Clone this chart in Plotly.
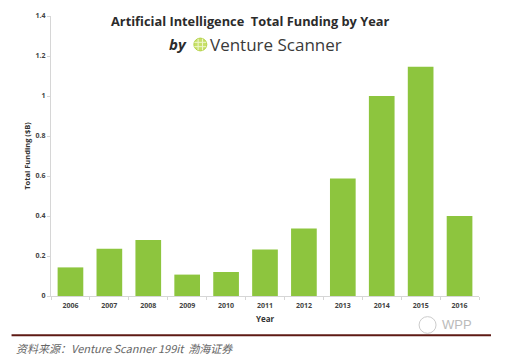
import plotly.graph_objects as go

years = ["2006", "2007", "2008", "2009", "2010", "2011", "2012", "2013", "2014", "2015", "2016"]
funding = [0.143, 0.236, 0.280, 0.107, 0.120, 0.233, 0.338, 0.587, 1.000, 1.146, 0.400]
ytick_vals = [0, 0.2, 0.4, 0.6, 0.8, 1.0, 1.2, 1.4]
ytick_text = ["0", "0.2", "0.4", "0.6", "0.8", "1", "1.2", "1.4"]

W, H = 517, 357
L, R, T, B = 50.5, 38, 11, 61
ph = H - T - B
pw = W - L - R

def py(y):
    return (H - B - y) / ph

def px(x):
    return (x - L) / pw

fig = go.Figure(go.Bar(x=years, y=funding, marker=dict(color="#8dc53e", line=dict(width=0)),
                       width=0.66))

fig.update_layout(
    width=W, height=H,
    margin=dict(l=L, r=R, t=T, b=B),
    plot_bgcolor="white", paper_bgcolor="white",
    showlegend=False,
    font=dict(family="Open Sans, DejaVu Sans, sans-serif", color="#444"),
    xaxis=dict(
        type="category", showgrid=False, showline=True, linecolor="#d6d6d6", linewidth=1,
        ticks="outside", tickson="boundaries", ticklen=3, tickcolor="#d6d6d6",
        ticklabelstandoff=3,
        tickfont=dict(size=7, color="#444", weight="bold"),
        title=dict(text="<b>Year</b>", font=dict(size=8, color="#333"), standoff=6),
        range=[-0.5, 10.5],
    ),
    yaxis=dict(
        range=[0, 1.4], showgrid=False, zeroline=False, showline=True, linecolor="#d6d6d6",
        linewidth=1, ticks="outside", ticklen=3, tickcolor="#d6d6d6",
        tickvals=ytick_vals, ticktext=ytick_text,
        tickfont=dict(size=7, color="#444", weight="bold"),
        title=dict(text="<b>Total Funding ($B)</b>", font=dict(size=7.5, color="#333"), standoff=3),
    ),
    bargap=0.34,
)

ann = []
ann.append(dict(x=px(250), y=py(16), xref="paper", yref="paper", showarrow=False,
                text="<b>Artificial Intelligence  Total Funding by Year</b>",
                font=dict(size=12.8, color="#2b2b2b", family="Open Sans, sans-serif"),
                xanchor="center", yanchor="middle"))
ann.append(dict(x=px(189), y=py(40), xref="paper", yref="paper", showarrow=False,
                text="<b><i>by</i></b>", font=dict(size=15, color="#2b2b2b"),
                xanchor="right", yanchor="middle"))
ann.append(dict(x=px(208), y=py(40), xref="paper", yref="paper", showarrow=False,
                text="Venture Scanner", font=dict(size=17, color="#3a3a3a", family="Open Sans, sans-serif"),
                xanchor="left", yanchor="middle"))
ann.append(dict(x=px(13), y=py(349), xref="paper", yref="paper", showarrow=False,
                text="<i>资料来源：Venture Scanner 199it  渤海证券</i>",
                font=dict(size=11, color="#666", family="Noto Sans CJK SC, Liberation Sans, sans-serif"),
                xanchor="left", yanchor="middle"))
ann.append(dict(x=px(440), y=py(325), xref="paper", yref="paper", showarrow=False,
                text="WPP", font=dict(size=13, color="#bbbbbb", family="Liberation Sans, sans-serif"),
                xanchor="left", yanchor="middle"))
fig.update_layout(annotations=ann)

shapes = []
# logo circle
shapes.append(dict(type="circle", xref="paper", yref="paper",
                   x0=px(193.5), x1=px(206.5), y0=py(46.5), y1=py(33.5),
                   fillcolor="#c8e06a", line=dict(color="#b5d34a", width=1)))
for dx in (-2.2, 2.2):
    shapes.append(dict(type="line", xref="paper", yref="paper",
                       x0=px(200 + dx), x1=px(200 + dx), y0=py(46), y1=py(34),
                       line=dict(color="#eef6cc", width=1)))
for dy in (-2.2, 2.2):
    shapes.append(dict(type="line", xref="paper", yref="paper",
                       x0=px(194), x1=px(206), y0=py(40 + dy), y1=py(40 + dy),
                       line=dict(color="#eef6cc", width=1)))
# bottom rule
shapes.append(dict(type="line", xref="paper", yref="paper",
                   x0=px(11), x1=px(491), y0=py(336), y1=py(336),
                   line=dict(color="#5e1a14", width=2)))
# watermark circle icon
shapes.append(dict(type="circle", xref="paper", yref="paper",
                   x0=px(419), x1=px(436), y0=py(334), y1=py(317),
                   fillcolor="rgba(255,255,255,0.9)", line=dict(color="#cccccc", width=1)))
fig.update_layout(shapes=shapes)

fig.write_html("out.html", config={"displayModeBar": False},
               post_script="document.body.style.margin='0';document.body.style.overflow='hidden';")
